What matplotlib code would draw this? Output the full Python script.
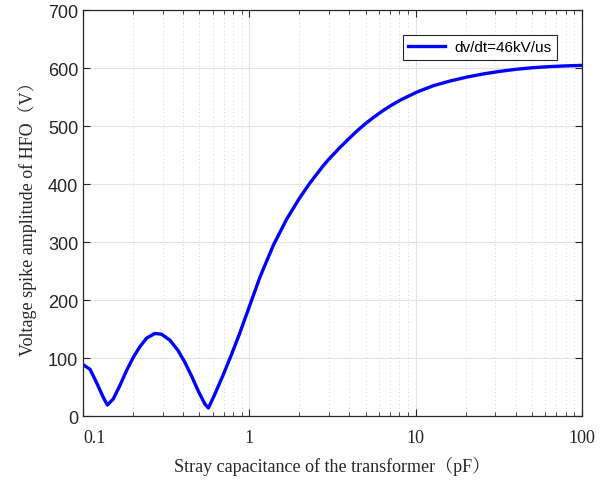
import matplotlib
matplotlib.use("Agg")
import matplotlib.pyplot as plt
import numpy as np

# values
cap_pf = [0.1, 0.1099, 0.1201, 0.132, 0.1397, 0.1515, 0.166, 0.182, 0.2, 0.219,
          0.2407, 0.2698, 0.2956, 0.3323, 0.3729, 0.409, 0.4479, 0.4917, 0.5394,
          0.567, 0.6192, 0.6946, 0.7791, 0.8755, 0.9166, 1.0, 1.16, 1.394, 1.679,
          2.0, 2.32, 2.787, 3.0, 3.51, 4.22, 4.53, 5.0, 5.6, 6.3, 7.1, 8.07,
          10.18, 12.8, 16.1, 20.3, 25.6, 32.3, 40.6, 51.2, 64.5, 81.2, 100.0]
spike_v = [88.8, 81, 58.5, 32.7, 19.4, 29.8, 52.7, 78.5, 101.5, 119.8,
           134.8, 142.8, 141.6, 131.3, 113, 93, 69.9, 44, 21.2,
           14.3, 38, 71, 106, 143.5, 159.5, 189.5, 240.7, 295, 340.2,
           375.9, 402.7, 432.2, 442.9, 463.6, 486, 494.1, 504.6, 515.6, 526.1, 535.7, 544.9,
           559, 570, 578, 584.8, 590.3, 594.8, 598.4, 601.1, 603, 604.2, 605]

xticks = [0.1, 1, 10, 100]
xtick_labels = ["0.1", "1", "10", "100"]
yticks = [0, 100, 200, 300, 400, 500, 600, 700]

serif = ["Liberation Serif", "Noto Serif CJK SC", "Noto Sans CJK SC"]
sans = "Liberation Sans"
dark = "#262626"

fig = plt.figure(figsize=(6.12, 4.85), dpi=100)
ax = fig.add_axes([0.136, 0.1396, 0.8145, 0.8371])

ax.plot(cap_pf, spike_v, color=(0, 0, 1), lw=2.4, solid_joinstyle="round",
        label="dv/dt=46kV/us")

ax.set_xscale("log")
ax.set_xlim(0.1, 100)
ax.set_ylim(0, 700)
ax.set_yticks(yticks)
ax.set_xticks(xticks)
ax.set_xticklabels(xtick_labels)

ax.grid(True, which="major", color="#e3e3e3", lw=0.8, ls="-")
ax.grid(True, which="minor", axis="x", color="#d6d6d6", lw=0.7, ls=(0, (1, 3)))
ax.set_axisbelow(True)

ax.tick_params(which="both", direction="in", top=True, right=True, color=dark)
ax.tick_params(which="major", length=5, width=0.8)
ax.tick_params(which="minor", length=3, width=0.6)
for s in ax.spines.values():
    s.set_color(dark)
    s.set_linewidth(0.9)

for lab in ax.get_yticklabels():
    lab.set_fontfamily(sans)
    lab.set_fontsize(13)
    lab.set_color(dark)
for lab in ax.get_xticklabels():
    lab.set_fontfamily("Liberation Serif")
    lab.set_fontsize(13)
    lab.set_color(dark)
ax.get_xticklabels()[0].set_horizontalalignment("left")
ax.tick_params(axis="x", pad=9)

ax.set_xlabel("Stray capacitance of the transformer（pF）", family=serif,
              fontsize=13, color=dark, labelpad=7)
ax.set_ylabel("Voltage spike amplitude of HFO（V）", family=serif,
              fontsize=13, color=dark, labelpad=8)

leg = ax.legend(loc="upper right", bbox_to_anchor=(0.965, 0.958),
                prop={"family": sans, "size": 11}, fancybox=False,
                framealpha=1, edgecolor=dark, handlelength=2.4,
                borderpad=0.35, handletextpad=0.6)
leg.get_frame().set_linewidth(0.8)

fig.savefig("out.png", dpi=100)
